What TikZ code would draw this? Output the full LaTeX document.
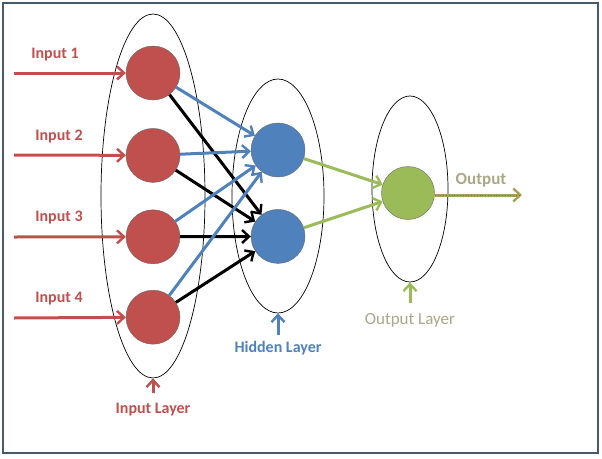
\documentclass[tikz,border=0pt]{standalone}
\usepackage{fontspec}
\setmainfont{Carlito}
\usetikzlibrary{positioning,arrows.meta,shapes.geometric}
\definecolor{inred}{HTML}{C0504D}
\definecolor{hidblue}{HTML}{4F81BD}
\definecolor{outgreen}{HTML}{9BBB59}
\definecolor{outtext}{HTML}{ABA886}
\definecolor{frame}{HTML}{4A5A6E}

\begin{document}
\begin{tikzpicture}[x=1pt,y=-1pt,
	neuron/.style={circle, minimum size=54pt, inner sep=0pt, draw=black!60, line width=0.4pt},
	layer/.style={ellipse, draw, line width=0.7pt, inner sep=0pt},
	wire/.style={line width=3pt, -{Straight Barb[length=7pt,width=13pt,line width=2.4pt]}},
	tag/.style={font=\bfseries\fontsize{16}{18}\selectfont, inner sep=1pt}]
	\useasboundingbox (0,0) rectangle (602,458);
	\draw[frame, line width=2pt] (3,3) rectangle (598,453);
	
	% layers
	\node(inlayer)[layer, minimum width=104pt, minimum height=364pt] at (153,196) {};
	\node(hidlayer)[layer, minimum width=92pt, minimum height=234pt] at (278,196) {};
	\node(outlayer)[layer, minimum width=76pt, minimum height=186pt] at (410,189) {};
	
	% neurons
	\node(in1)[neuron, fill=inred] at (153,73) {};
	\node(in2)[neuron, fill=inred, below=28pt of in1] {};
	\node(in3)[neuron, fill=inred, below=27pt of in2] {};
	\node(in4)[neuron, fill=inred, below=26pt of in3] {};
	\node(hid1)[neuron, fill=hidblue] at (278,150) {};
	\node(hid2)[neuron, fill=hidblue, below=32pt of hid1] {};
	\node(out)[neuron, fill=outgreen, minimum size=53pt] at (408,193) {};
	
	% inputs
	\coordinate(src1) at (14,73);
	\coordinate(src2) at (14,155);
	\coordinate(src3) at (14,237);
	\coordinate(src4) at (14,318);
	\node(lab1)[tag, inred] at (55,55) {Input 1};
	\node(lab2)[tag, inred] at (59,137) {Input 2};
	\node(lab3)[tag, inred] at (59,218) {Input 3};
	\node(lab4)[tag, inred] at (59,299) {Input 4};
	\foreach \i in {1,...,4}
		\path (src\i) edge[wire, inred] (in\i);
	
	% connections
	\foreach \i in {1,...,4} {
		\path (in\i) edge[wire, hidblue] (hid1);
		\path (in\i) edge[wire, black] (hid2);
	}
	\path (hid1) edge[wire, outgreen] (out);
	\path (hid2) edge[wire, outgreen] (out);
	
	% output
	\coordinate(sink) at (522,195);
	\path (out.east |- sink) edge[wire, outgreen!80!inred] (sink);
	\draw[inred, line width=0.8pt, dotted] (out.east |- sink) -- ([xshift=-3pt]sink);
	\node(outlab)[tag, outtext, font=\bfseries\fontsize{17}{19}\selectfont] at (481,180) {Output};
	
	% layer names
	\node(inname)[tag, inred, below=24pt of inlayer.south] {Input Layer};
	\node(hidname)[tag, hidblue, below=27pt of hidlayer.south] {Hidden Layer};
	\node(outname)[tag, outtext, font=\fontsize{17}{19}\selectfont, below=30pt of outlayer.south] {Output Layer};
	\path (inname.north) edge[wire, inred, shorten <=9pt] (inlayer.south);
	\path (hidname.north) edge[wire, hidblue, shorten <=5pt] (hidlayer.south);
	\path (outname.north) edge[wire, outgreen, shorten <=9pt] (outlayer.south);
\end{tikzpicture}
\end{document}
